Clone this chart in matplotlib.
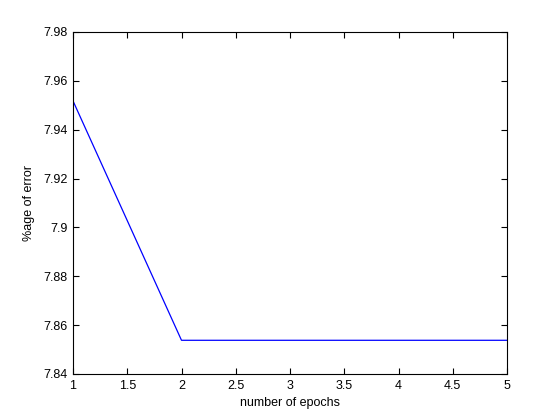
import matplotlib
matplotlib.use('Agg')
import matplotlib.pyplot as plt

epochs = [1, 2, 3, 4, 5]
error_pct = [7.9518, 7.8538, 7.8538, 7.8538, 7.8538]
xticks = [1, 1.5, 2, 2.5, 3, 3.5, 4, 4.5, 5]
yticks = [7.84, 7.86, 7.88, 7.90, 7.92, 7.94, 7.96, 7.98]
ytick_labels = ['7.84', '7.86', '7.88', '7.9', '7.92', '7.94', '7.96', '7.98']

plt.rcParams['font.family'] = ['Liberation Sans', 'DejaVu Sans']

fig = plt.figure(figsize=(5.6, 4.2), dpi=100)
ax = fig.add_axes([73 / 560, 1 - 374 / 420, (507 - 73) / 560, (374 - 32) / 420])
ax.plot(epochs, error_pct, color='#0000ff', linewidth=0.9)
ax.set_xlim(1, 5)
ax.set_ylim(7.84, 7.98)
ax.set_xticks(xticks)
ax.set_xticklabels(['1', '1.5', '2', '2.5', '3', '3.5', '4', '4.5', '5'])
ax.set_yticks(yticks)
ax.set_yticklabels(ytick_labels)
ax.tick_params(direction='in', top=True, right=True, labelsize=9, length=4, width=0.8, pad=4)
for s in ax.spines.values():
    s.set_linewidth(0.8)
ax.set_xlabel('number of epochs', fontsize=9, labelpad=4)
ax.set_ylabel('%age of error', fontsize=9, labelpad=6)

fig.savefig('out.png', dpi=100)
